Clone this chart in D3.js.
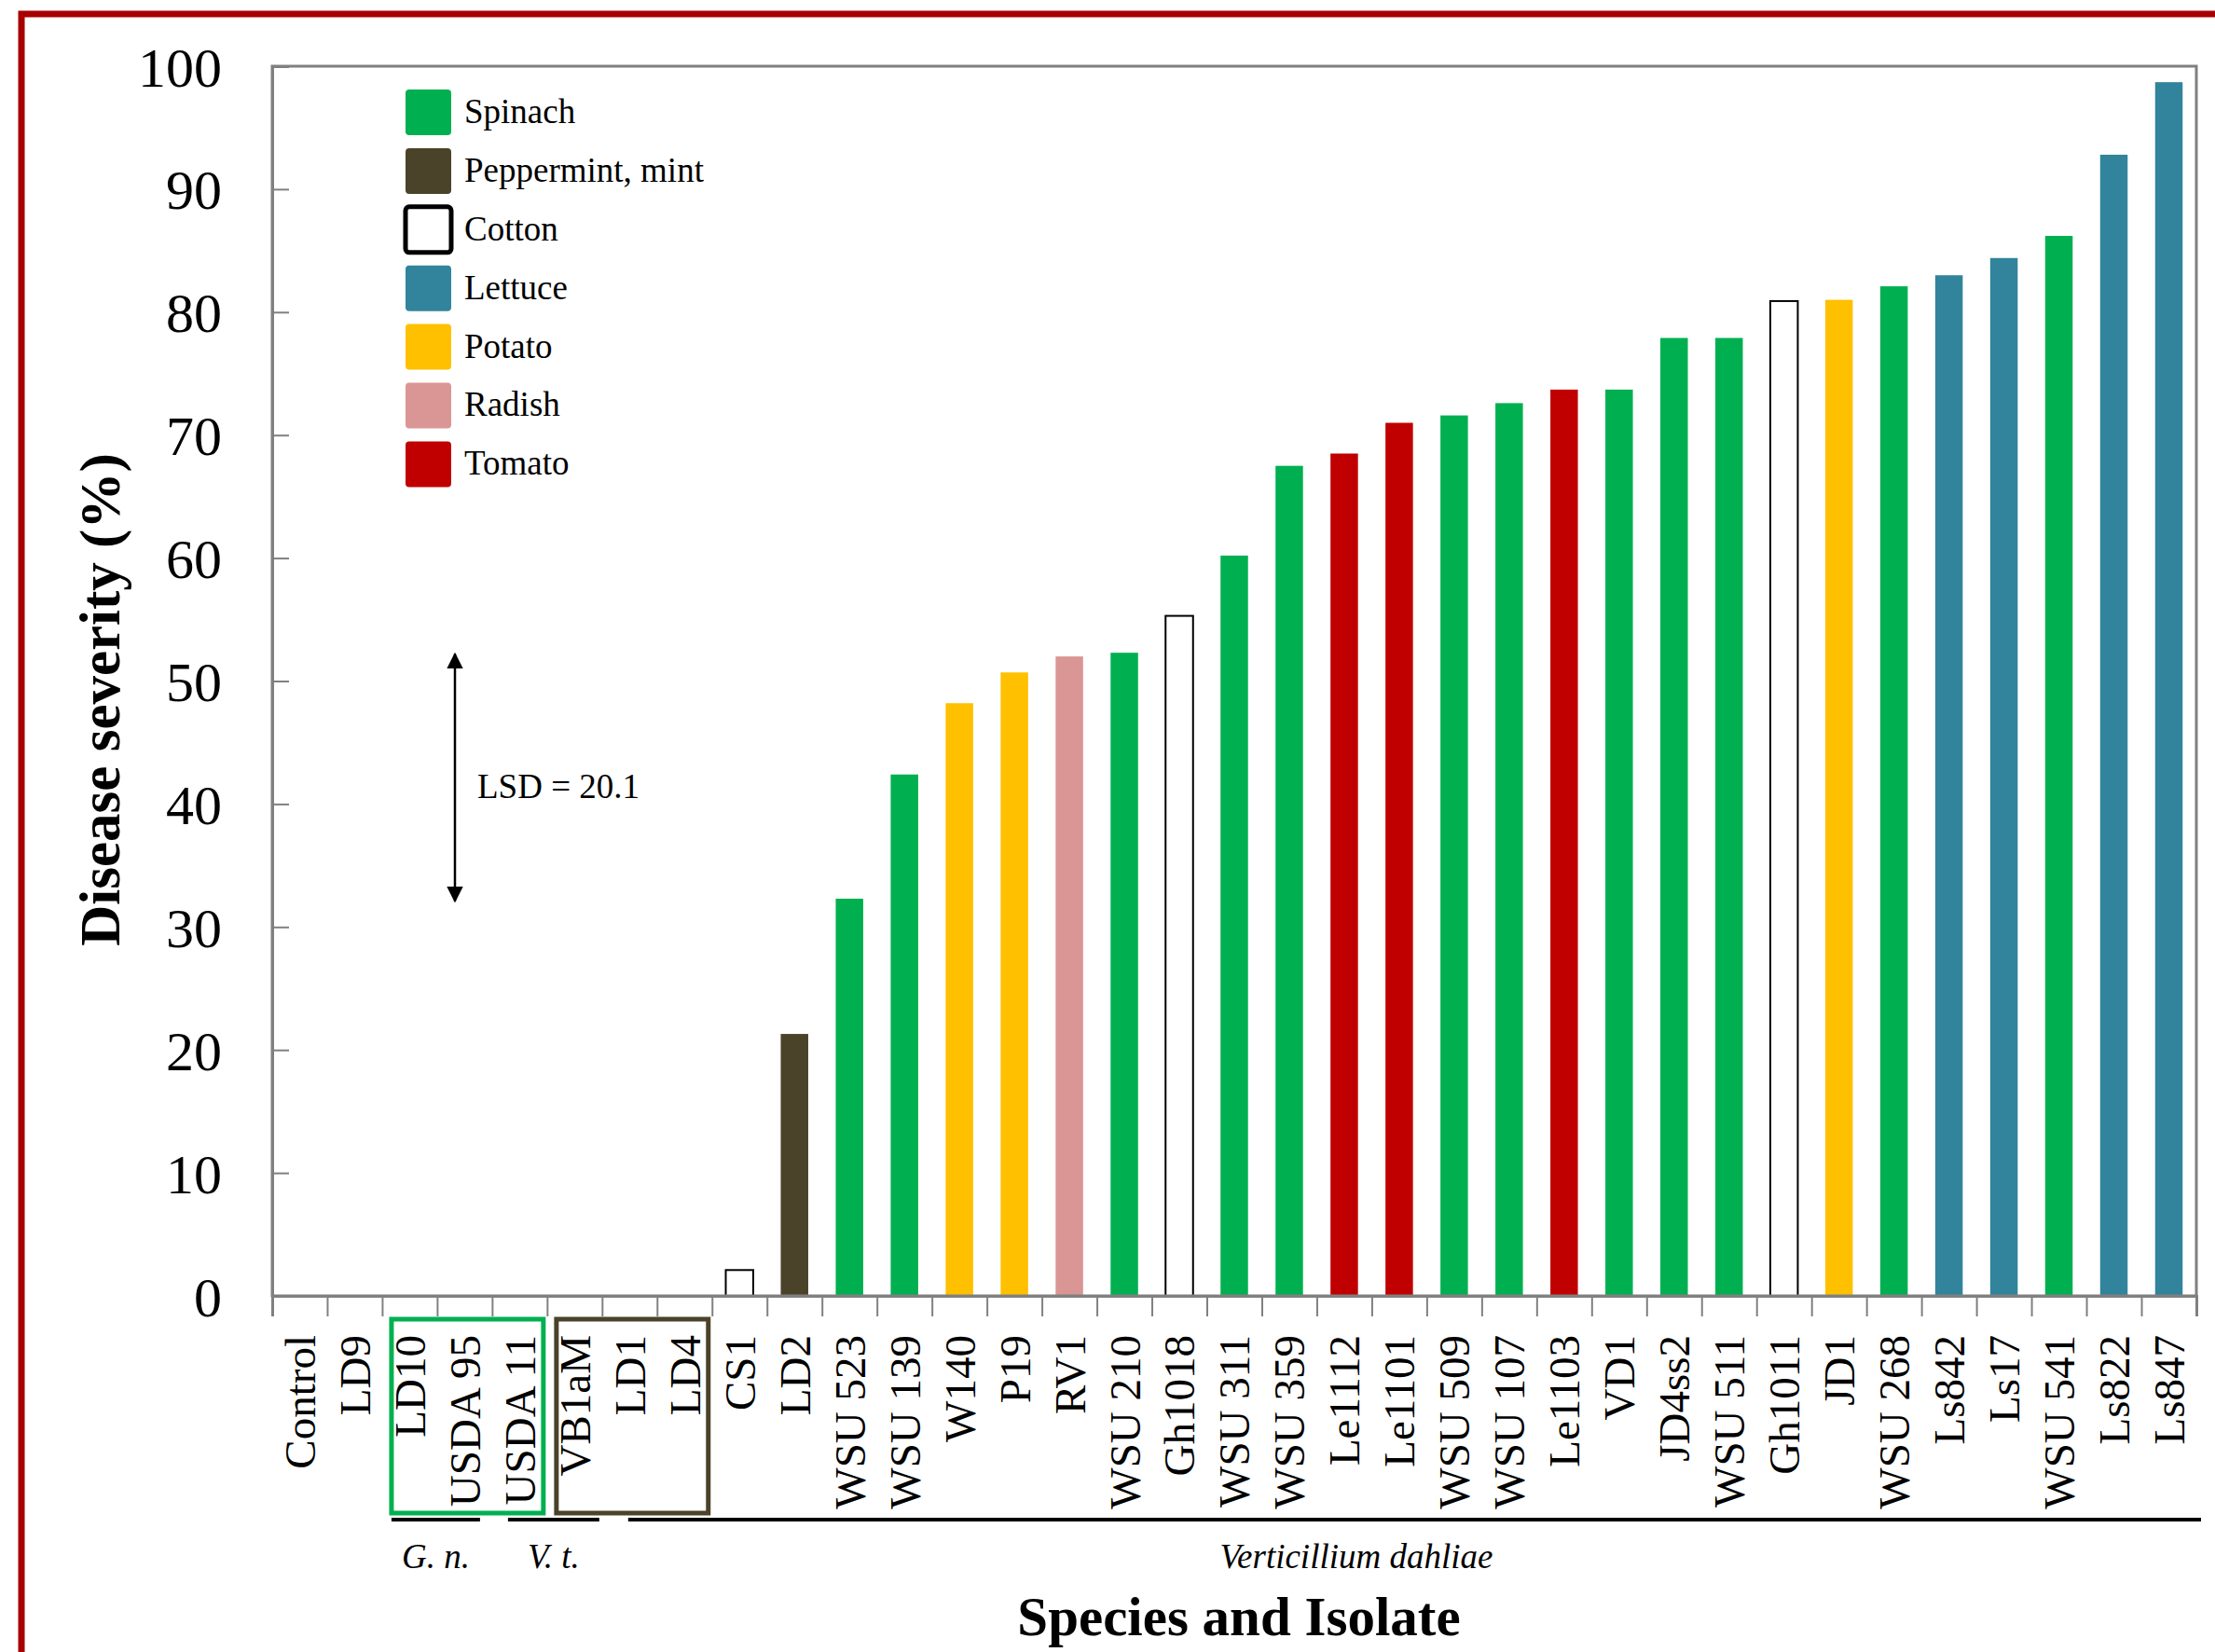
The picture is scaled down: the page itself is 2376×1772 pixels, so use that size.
<!DOCTYPE html>
<html>
<head>
<meta charset="utf-8">
<script src="https://cdn.jsdelivr.net/npm/d3@7"></script>
<style>
  body { margin: 0; background: #fff; }
  svg text { font-family: "Liberation Serif", "Times New Roman", serif; fill: #000; }
</style>
</head>
<body>
<div class="chart"></div>
<script>
// isolates, left to right
const isolates = ['Control', 'LD9', 'LD10', 'USDA 95', 'USDA 11', 'VB1aM', 'LD1', 'LD4', 'CS1', 'LD2',
  'WSU 523', 'WSU 139', 'W140', 'P19', 'RV1', 'WSU 210', 'Gh1018', 'WSU 311', 'WSU 359', 'Le1112',
  'Le1101', 'WSU 509', 'WSU 107', 'Le1103', 'VD1', 'JD4ss2', 'WSU 511', 'Gh1011', 'JD1', 'WSU 268',
  'Ls842', 'Ls17', 'WSU 541', 'Ls822', 'Ls847'];
// disease severity (%)
const severity = [0, 0, 0, 0, 0, 0, 0, 0, 2.1, 21.3,
  32.3, 42.4, 48.2, 50.7, 52.0, 52.3, 55.3, 60.2, 67.5, 68.5,
  71.0, 71.6, 72.6, 73.7, 73.7, 77.9, 77.9, 80.9, 81.0, 82.1,
  83.0, 84.4, 86.2, 92.8, 98.7];
// host of origin
const hosts = ['', '', 'Spinach', 'Spinach', 'Spinach', 'Peppermint, mint', 'Peppermint, mint', 'Peppermint, mint', 'Cotton', 'Peppermint, mint',
  'Spinach', 'Spinach', 'Potato', 'Potato', 'Radish', 'Spinach', 'Cotton', 'Spinach', 'Spinach', 'Tomato',
  'Tomato', 'Spinach', 'Spinach', 'Tomato', 'Spinach', 'Spinach', 'Spinach', 'Cotton', 'Potato', 'Spinach',
  'Lettuce', 'Lettuce', 'Spinach', 'Lettuce', 'Lettuce'];
const host_names = ['Spinach', 'Peppermint, mint', 'Cotton', 'Lettuce', 'Potato', 'Radish', 'Tomato'];
const host_colors = ['#00b050', '#4a4229', '#ffffff', '#31849b', '#ffc000', '#da9694', '#c00000'];
const y_ticks = [0, 10, 20, 30, 40, 50, 60, 70, 80, 90, 100];
// species groups under the axis (first and last isolate index)
const species = [
  {name: 'G. n.', from: 2, to: 3},
  {name: 'V. t.', from: 4, to: 5},
  {name: 'Verticillium dahliae', from: 6, to: 34}
];
// host boxes around the zero isolates
const host_boxes = [
  {host: 'Spinach', from: 2, to: 4},
  {host: 'Peppermint, mint', from: 5, to: 7}
];
const lsd = 20.1;

const data = isolates.map((d, i) => ({isolate: d, value: severity[i], host: hosts[i]}));

const svg_width = 2376;
const svg_height = 1772;
const margin = {top: 71, right: 20, bottom: 382, left: 292};
const chart_width = svg_width - margin.left - margin.right;
const chart_height = svg_height - margin.top - margin.bottom;

const color = d3.scaleOrdinal(host_names, host_colors);

const svg = d3.select('.chart').append('svg')
  .attr('width', svg_width)
  .attr('height', svg_height);

// red outer frame (runs off the right and bottom)
svg.append('rect')
  .attr('x', 23).attr('y', 15)
  .attr('width', svg_width + 50).attr('height', svg_height + 50)
  .attr('fill', 'none')
  .attr('stroke', '#a80000')
  .attr('stroke-width', 7);

const g = svg.append('g').attr('transform', `translate(${margin.left},${margin.top})`);

const x = d3.scaleBand(isolates, [0, chart_width]).paddingInner(0.5).paddingOuter(0.25);
const x_edges = d3.scaleLinear([0, isolates.length], [0, chart_width]);
const y = d3.scaleLinear([0, 100], [chart_height, 0]);

// bars
g.append('g').selectAll('rect')
  .data(data.filter(d => d.value > 0))
  .join('rect')
  .attr('x', d => x(d.isolate))
  .attr('y', d => y(d.value))
  .attr('width', x.bandwidth())
  .attr('height', d => y(0) - y(d.value))
  .attr('fill', d => color(d.host))
  .attr('stroke', d => d.host === 'Cotton' ? '#000' : 'none')
  .attr('stroke-width', 2);

// plot frame
g.append('rect')
  .attr('width', chart_width).attr('height', chart_height)
  .attr('fill', 'none').attr('stroke', '#808080').attr('stroke-width', 3);

// y axis, ticks pointing inward
const y_axis = g.append('g')
  .call(d3.axisLeft(y).tickValues(y_ticks).tickSize(-18).tickPadding(54));
y_axis.select('.domain').attr('stroke', '#808080').attr('stroke-width', 3);
y_axis.selectAll('.tick line').attr('stroke', '#808080').attr('stroke-width', 2);
y_axis.selectAll('text').style('font-size', '60px').attr('dy', '0.35em');

// x ticks at category edges
const x_tick_axis = g.append('g')
  .attr('transform', `translate(0,${chart_height})`)
  .call(d3.axisBottom(x_edges).tickValues(d3.range(isolates.length + 1)).tickSize(22).tickFormat(''));
x_tick_axis.select('.domain').attr('stroke', '#808080').attr('stroke-width', 3);
x_tick_axis.selectAll('.tick line').attr('stroke', '#808080').attr('stroke-width', 2);

// x labels, rotated
const x_axis = g.append('g')
  .attr('transform', `translate(0,${chart_height})`)
  .call(d3.axisBottom(x).tickSize(0).tickPadding(0));
x_axis.select('.domain').remove();
x_axis.selectAll('text')
  .style('font-size', '47px')
  .attr('text-anchor', 'end')
  .attr('transform', 'rotate(-90)')
  .attr('x', -42)
  .attr('y', 0)
  .attr('dy', '0.35em');

// host boxes around labels
g.append('g').selectAll('rect')
  .data(host_boxes)
  .join('rect')
  .attr('x', d => x_edges(d.from) + 10)
  .attr('y', chart_height + 25)
  .attr('width', d => x_edges(d.to + 1) - x_edges(d.from) - 14)
  .attr('height', 208)
  .attr('fill', 'none')
  .attr('stroke', d => color(d.host))
  .attr('stroke-width', 5);

// species lines and names (small pixel insets so the lines leave gaps)
const insets = [[10, -13], [17, -3], [28, 5]];
const sp_x1 = (d, i) => x_edges(d.from) + insets[i][0];
const sp_x2 = (d, i) => x_edges(d.to + 1) + insets[i][1];
const sp = g.append('g').attr('transform', `translate(0,${chart_height + 240})`);
sp.selectAll('line')
  .data(species)
  .join('line')
  .attr('x1', sp_x1)
  .attr('x2', sp_x2)
  .attr('stroke', '#000')
  .attr('stroke-width', 4);
sp.selectAll('text')
  .data(species)
  .join('text')
  .attr('x', (d, i) => d.name.length > 6 ? 1163 : (sp_x1(d, i) + sp_x2(d, i)) / 2)
  .attr('y', 52)
  .attr('text-anchor', 'middle')
  .style('font-size', '37px')
  .style('font-style', 'italic')
  .text(d => d.name);

// legend
const legend = g.append('g').attr('transform', 'translate(143,25)');
const rows = legend.selectAll('g')
  .data(host_names)
  .join('g')
  .attr('transform', (d, i) => `translate(0,${i * 62.9})`);
rows.append('rect')
  .attr('width', 49).attr('height', 49).attr('rx', 4)
  .attr('fill', d => color(d))
  .attr('stroke', d => d === 'Cotton' ? '#000' : 'none')
  .attr('stroke-width', 5);
rows.append('text')
  .attr('x', 63).attr('y', 23).attr('dy', '0.35em')
  .style('font-size', '37px')
  .text(d => d);

// LSD arrow
const defs = svg.append('defs');
defs.append('marker')
  .attr('id', 'head')
  .attr('viewBox', '0 0 10 10')
  .attr('refX', 9).attr('refY', 5)
  .attr('markerWidth', 7).attr('markerHeight', 7)
  .attr('orient', 'auto-start-reverse')
  .append('path').attr('d', 'M0,0 L10,5 L0,10 Z').attr('fill', '#000');
const lsd_top = 52.2;
g.append('line')
  .attr('x1', 196).attr('x2', 196)
  .attr('y1', y(lsd_top)).attr('y2', y(lsd_top - lsd))
  .attr('stroke', '#000').attr('stroke-width', 2.5)
  .attr('marker-start', 'url(#head)').attr('marker-end', 'url(#head)');
g.append('text')
  .attr('x', 220).attr('y', y(lsd_top - lsd / 2) + 9).attr('dy', '0.35em')
  .style('font-size', '37px')
  .text(`LSD = ${lsd}`);

// axis titles
svg.append('text')
  .attr('transform', `translate(128,${margin.top + y(50) + 20}) rotate(-90)`)
  .attr('text-anchor', 'middle')
  .style('font-size', '61px').style('font-weight', 'bold')
  .text('Disease severity (%)');
svg.append('text')
  .attr('x', 1329).attr('y', 1754)
  .attr('text-anchor', 'middle')
  .style('font-size', '59px').style('font-weight', 'bold')
  .text('Species and Isolate');
</script>
</body>
</html>
